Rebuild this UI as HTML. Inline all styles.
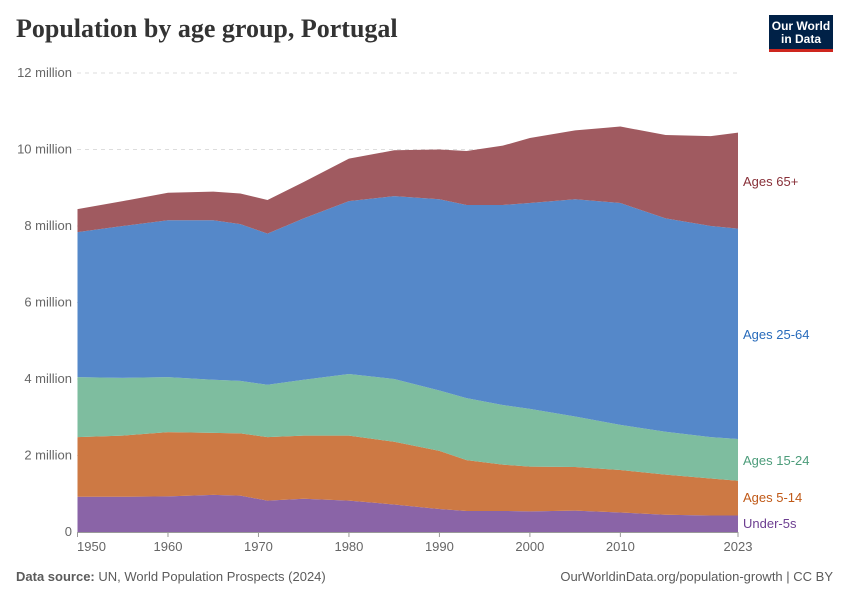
<!DOCTYPE html>
<html><head><meta charset="utf-8"><style>
body{margin:0;background:#fff;font-family:"Liberation Sans",sans-serif}
#wrap{position:relative;width:850px;height:600px}
</style></head><body>
<div id="wrap">
<div style="position:absolute;left:16px;top:14px;font-family:'Liberation Serif',serif;font-size:26px;font-weight:bold;color:#333">Population by age group, Portugal</div>
<div style="position:absolute;left:769px;top:15px;width:64px;height:37px;background:#002147;border-bottom:3px solid #ce261e;color:#fff;font-size:12px;font-weight:bold;line-height:13px;text-align:center;padding-top:5px;box-sizing:border-box">Our World<br>in Data</div>
<svg id="svg" width="850" height="600" style="position:absolute;left:0;top:0"></svg>
<div style="position:absolute;left:16px;top:569px;font-size:13px;color:#5b5b5b"><b>Data source:</b> UN, World Population Prospects (2024)</div>
<div style="position:absolute;right:17px;top:569px;font-size:13px;color:#5b5b5b">OurWorldinData.org/population-growth | CC BY</div>
</div>
<script>
const years=[1950,1955,1960,1965,1968,1971,1975,1980,1985,1990,1993,1997,2000,2005,2010,2015,2020,2023];
const under5=[.92,.92,.93,.97,.95,.82,.87,.82,.72,.6,.55,.55,.54,.56,.51,.45,.43,.43];
const ages5to14=[1.56,1.60,1.68,1.62,1.63,1.66,1.65,1.70,1.64,1.52,1.33,1.21,1.17,1.14,1.11,1.05,0.97,0.91];
const ages15to24=[1.57,1.51,1.44,1.39,1.37,1.37,1.46,1.61,1.64,1.58,1.62,1.56,1.51,1.32,1.18,1.12,1.08,1.09];
const ages25to64=[3.79,3.97,4.10,4.17,4.10,3.95,4.22,4.52,4.78,5.0,5.05,5.23,5.38,5.68,5.8,5.58,5.52,5.50];
const ages65plus=[0.60,0.65,0.72,0.75,0.80,0.88,0.95,1.11,1.20,1.30,1.41,1.55,1.70,1.80,2.0,2.18,2.35,2.51];
const yTicks=[0,2,4,6,8,10,12];
const yTickLabels=["0","2 million","4 million","6 million","8 million","10 million","12 million"];
const xTicks=[1950,1960,1970,1980,1990,2000,2010,2023];
const NS="http://www.w3.org/2000/svg";
const svg=document.getElementById('svg');
const x=v=>77.5+(v-1950)*(738-77.5)/73;
const y=v=>532-v*38.25;
function mk(t,a){const e=document.createElementNS(NS,t);for(const k in a)e.setAttribute(k,a[k]);svg.appendChild(e);return e;}
yTicks.forEach((t,i)=>{
 if(t>0){const l=mk('line',{x1:77,x2:738,y1:y(t),y2:y(t),stroke:'#ddd','stroke-dasharray':'4,4'});
 
 }
 const tx=mk('text',{x:72,y:y(t)+4,'text-anchor':'end','font-size':13,fill:'#666'});
 
 
 tx.textContent=yTickLabels[i];
});
const series=[
 {d:under5,c:'#8a64a7',lc:'#6d3e91',n:'Under-5s',ly:524},
 {d:ages5to14,c:'#cd7944',lc:'#c05917',n:'Ages 5-14',ly:498},
 {d:ages15to24,c:'#7ebd9f',lc:'#4c9c7a',n:'Ages 15-24',ly:461},
 {d:ages25to64,c:'#5588c9',lc:'#286bbb',n:'Ages 25-64',ly:335},
 {d:ages65plus,c:'#a05a60',lc:'#883039',n:'Ages 65+',ly:182}];
let base=years.map(()=>0);
series.forEach(s=>{
 const top=base.map((b,i)=>b+s.d[i]);
 let p='M'+years.map((yr,i)=>x(yr)+','+y(top[i])).join('L');
 for(let i=years.length-1;i>=0;i--)p+='L'+x(years[i])+','+y(base[i]);
 const a=mk('path',{d:p+'Z',fill:s.c});
 
 
 const t=mk('text',{x:743,y:s.ly+4,'font-size':13,fill:s.lc});
 
 
 t.textContent=s.n;
 base=top;
});
const ax=mk('line',{x1:77.5,x2:738,y1:532.5,y2:532.5,stroke:'#999'});


xTicks.forEach(t=>{
 const tk=mk('line',{x1:x(t),x2:x(t),y1:532,y2:537,stroke:'#999'});
 
 
 const tx=mk('text',{x:x(t)+(t==1950?14:0),y:551,'text-anchor':'middle','font-size':13,fill:'#666'});
 
 
 tx.textContent=t;
});
</script>
</body></html>
